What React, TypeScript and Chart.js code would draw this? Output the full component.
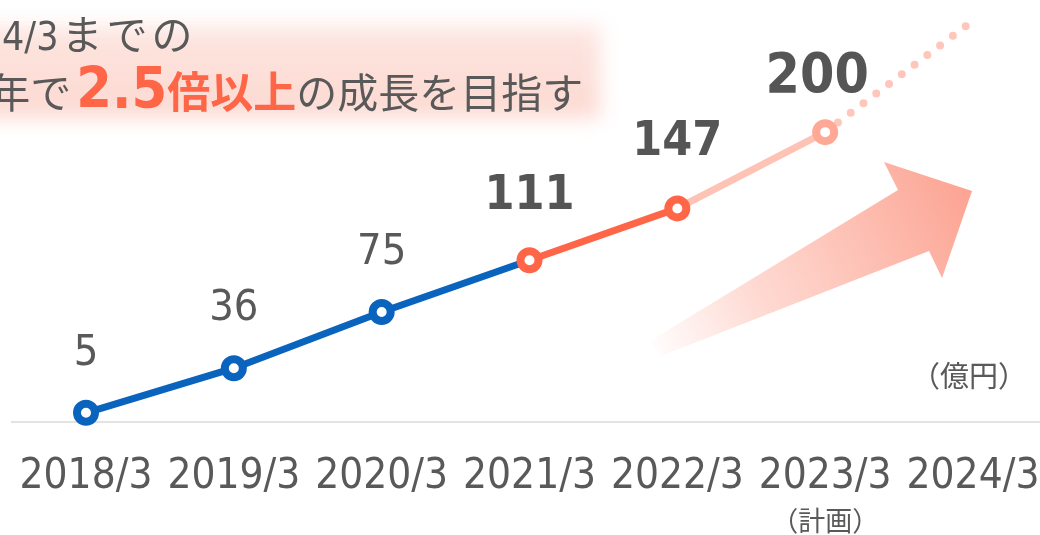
import React, { useEffect, useRef } from 'react';
import { Chart, registerables } from 'chart.js';

Chart.register(...registerables);

// ---- data ----
const categories = ['2018/3', '2019/3', '2020/3', '2021/3', '2022/3', '2023/3', '2024/3'];
const salesValues = [5, 36, 75, 111, 147, 200, null];
const targetValues = [null, null, null, null, null, 200, 277.5];
const valueLabels = ['5', '36', '75', '111', '147', '200'];
const unitLabel = '（億円）';
const planLabel = '（計画）';
const planIndex = 5;
const headlineLine1 = [
  { text: '2024/3', cjk: false },
  { text: 'までの', cjk: true },
];
const headlineLine2 = [
  { text: '3年で', accent: false },
  { text: '2.5', accent: true },
  { text: '倍以上', accent: true },
  { text: 'の成長を目指す', accent: false },
];

// ---- styles ----
const LATIN = '"DejaVu Sans Condensed", "Noto Sans CJK JP", sans-serif';
const CJK = '"Noto Sans CJK JP", "DejaVu Sans Condensed", sans-serif';
const TEXT = '#595959';
const BLUE = '#0a64bd';
const ORANGE = '#ff6547';
const PINK_LINE = '#ffc3b6';
const PINK_POINT = '#ffa896';
const PINK_DOT = '#ffc7bb';
const segmentColors = [BLUE, BLUE, BLUE, ORANGE, PINK_LINE];
const pointColors = [BLUE, BLUE, BLUE, ORANGE, ORANGE, PINK_POINT];
const labelStyles = [
  { size: 43, bold: false, dx: 0, dy: 48 },
  { size: 43, bold: false, dx: 0, dy: 48 },
  { size: 43, bold: false, dx: 0, dy: 48 },
  { size: 48, bold: true, dx: 0, dy: 51 },
  { size: 48, bold: true, dx: 0, dy: 53 },
  { size: 55, bold: true, dx: -8, dy: 40 },
];

const decorPlugin = {
  id: 'decor',
  beforeDatasetsDraw(chart: any) {
    const ctx = chart.ctx as CanvasRenderingContext2D;
    const area = chart.chartArea;
    // headline background
    ctx.save();
    ctx.filter = 'blur(10px)';
    const bg = ctx.createLinearGradient(0, 24, 0, 116);
    bg.addColorStop(0, '#fde6e1');
    bg.addColorStop(1, '#fcd9d1');
    ctx.fillStyle = bg;
    ctx.fillRect(-30, 26, 630, 92);
    ctx.restore();

    // growth arrow
    ctx.save();
    const g = ctx.createLinearGradient(648, 352, 972, 192);
    g.addColorStop(0, 'rgba(253,167,150,0)');
    g.addColorStop(0.35, 'rgba(253,170,153,0.45)');
    g.addColorStop(1, 'rgba(252,163,146,1)');
    ctx.fillStyle = g;
    ctx.beginPath();
    ctx.moveTo(650, 341);
    ctx.lineTo(898, 190);
    ctx.lineTo(884, 162);
    ctx.lineTo(972, 191);
    ctx.lineTo(942, 278);
    ctx.lineTo(929, 251);
    ctx.lineTo(661, 356);
    ctx.closePath();
    ctx.fill();
    ctx.restore();

    // baseline
    ctx.save();
    ctx.strokeStyle = '#e3e3e3';
    ctx.lineWidth = 2;
    ctx.beginPath();
    ctx.moveTo(11, area.bottom + 2);
    ctx.lineTo(chart.width, area.bottom + 2);
    ctx.stroke();
    ctx.restore();
  },
  afterDatasetsDraw(chart: any) {
    const ctx = chart.ctx as CanvasRenderingContext2D;
    const meta = chart.getDatasetMeta(0);
    ctx.save();
    ctx.fillStyle = TEXT;
    ctx.textAlign = 'center';
    ctx.textBaseline = 'alphabetic';
    valueLabels.forEach((t, i) => {
      const p = meta.data[i];
      if (!p) return;
      const s = labelStyles[i];
      ctx.font = `${s.bold ? 'bold ' : ''}${s.size}px ${LATIN}`;
      ctx.fillStyle = s.bold ? '#555555' : TEXT;
      ctx.fillText(t, p.x + s.dx, p.y - s.dy);
    });

    // unit
    ctx.fillStyle = TEXT;
    ctx.font = `29px ${CJK}`;
    ctx.textAlign = 'center';
    ctx.textBaseline = 'middle';
    ctx.fillText(unitLabel, 969, 376);

    // plan note under tick
    const xs = chart.scales.x;
    ctx.font = `27px ${CJK}`;
    ctx.fillText(planLabel, xs.getPixelForValue(planIndex), 521);

    // headline line 1
    ctx.textAlign = 'left';
    ctx.textBaseline = 'alphabetic';
    ctx.fillStyle = TEXT;
    ctx.font = `39px ${LATIN}`;
    let x = 2 - ctx.measureText('202').width;
    headlineLine1.forEach((part) => {
      ctx.font = part.cjk ? `41px ${CJK}` : `39px ${LATIN}`;
      (ctx as any).letterSpacing = part.cjk ? '4px' : '0px';
      if (part.cjk) x += 3;
      ctx.fillText(part.text, x, 50);
      x += ctx.measureText(part.text).width;
    });
    (ctx as any).letterSpacing = '0px';

    // headline line 2
    ctx.font = `41px ${LATIN}`;
    x = -10 - ctx.measureText('3').width;
    headlineLine2.forEach((part) => {
      if (part.accent) {
        const isDigits = /^[0-9.]+$/.test(part.text);
        ctx.font = isDigits ? `bold 57px ${LATIN}` : `bold 43px ${CJK}`;
        ctx.fillStyle = ORANGE;
        if (isDigits) x += 5;
      } else {
        ctx.font = `41px ${CJK}`;
        ctx.fillStyle = TEXT;
      }
      ctx.fillText(part.text, x, 108);
      x += ctx.measureText(part.text).width;
    });
    ctx.restore();
  },
};

export default function App() {
  const canvasRef = useRef<HTMLCanvasElement | null>(null);

  useEffect(() => {
    if (!canvasRef.current) return;
    const chart = new Chart(canvasRef.current, {
      type: 'line',
      data: {
        labels: categories,
        datasets: [
          {
            data: salesValues,
            borderColor: BLUE,
            borderWidth: 7,
            tension: 0,
            clip: false,
            spanGaps: false,
            segment: {
              borderColor: (c: any) => segmentColors[c.p0DataIndex] || BLUE,
            },
            pointRadius: 9,
            pointBorderWidth: 8,
            pointBackgroundColor: '#ffffff',
            pointBorderColor: pointColors,
            pointHoverRadius: 9,
            order: 0,
          },
          {
            data: targetValues,
            borderColor: PINK_DOT,
            borderWidth: 8,
            borderDash: [0, 16],
            borderCapStyle: 'round',
            tension: 0,
            clip: false,
            pointRadius: 0,
            order: 1,
          },
        ],
      },
      options: {
        responsive: false,
        animation: false,
        layout: { padding: { left: 86, right: 67, top: 10, bottom: 0 } },
        plugins: {
          legend: { display: false },
          tooltip: { enabled: false },
        },
        scales: {
          x: {
            type: 'category',
            offset: false,
            grid: { display: false, drawTicks: false },
            border: { display: false },
            ticks: {
              font: { family: LATIN, size: 42 },
              color: TEXT,
              padding: 32,
              maxRotation: 0,
              autoSkip: false,
            },
            afterFit: (s: any) => {
              s.height = 115;
              s.paddingLeft = 0;
              s.paddingRight = 0;
            },
          },
          y: { display: false, min: 0, max: 280 },
        },
      },
      plugins: [decorPlugin],
    } as any);
    return () => chart.destroy();
  }, []);

  return (
    <div style={{ position: 'fixed', left: 0, top: 0, width: 1040, height: 535, background: '#ffffff' }}>
      <canvas ref={canvasRef} width={1040} height={535} style={{ display: 'block' }} />
    </div>
  );
}
